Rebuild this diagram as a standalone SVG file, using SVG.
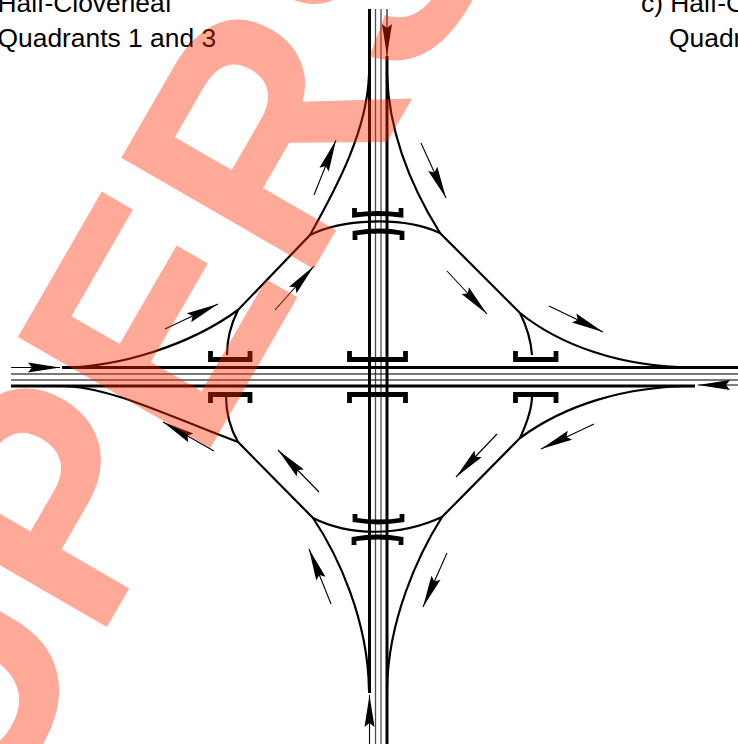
<svg xmlns="http://www.w3.org/2000/svg" width="738" height="744" viewBox="0 0 738 744">
<style>
.lbl{font-family:"Liberation Sans",Arial,sans-serif;font-size:26.4px;fill:#000}
.mw{fill:none;stroke:#000;stroke-width:3}
.ml{fill:none;stroke:#000;stroke-width:1.3;opacity:.7}
.rp{fill:none;stroke:#000;stroke-width:2.2}
.br{fill:none;stroke:#000;stroke-width:4.8}
.ar{fill:none;stroke:#000;stroke-width:1.1;marker-end:url(#ah)}
.wm{font-family:"Liberation Sans",Arial,sans-serif;font-weight:700;font-size:323px;fill:#ff2a00;opacity:.4}
</style>
<defs>
<marker id="ah" markerUnits="userSpaceOnUse" markerWidth="36" markerHeight="14" refX="33" refY="7" orient="auto">
<path d="M33,7 L1,2 L5,7 L1,12 Z" fill="#000"/>
</marker>
</defs>
<rect width="738" height="744" fill="#fff"/>
<g id="labels">
<text class="lbl" x="-2.5" y="12">Half-Cloverleaf</text>
<text class="lbl" x="-2.5" y="46.5">Quadrants 1 and 3</text>
<text class="lbl" x="641" y="12">c) Half-C</text>
<text class="lbl" x="669" y="46.5">Quadr</text>
</g>
<g id="connectors">
<path class="mw" d="M62,367.5H738"/>
<path class="mw" d="M11,386H695"/>
<path class="ml" d="M11,374H738M11,380H738"/>
<path class="mw" d="M369.5,9V693"/>
<path class="mw" d="M387,56V744"/>
<path class="ml" d="M375.5,9V744M381,9V744"/>
<path class="rp" d="M369,75C367,130 338,185 310,235L238,310C190,345 120,367 62,367.5"/>
<path class="rp" d="M387,75C389,130 410,185 440,233L520,313C560,345 620,367 692,367.5"/>
<path class="rp" d="M60,386C110,386 170,417 238,442L313,518C338,555 368,620 369,690"/>
<path class="rp" d="M695,386C625,386 565,405 520,438L442,517C418,555 388,620 387,690"/>
<path class="rp" d="M310,235C340,220 400,215 440,233"/>
<path class="rp" d="M520,313C526,325 531,340 532,355"/>
<path class="rp" d="M238,310C232,322 227,338 227,355"/>
<path class="rp" d="M238,442C230,428 226,412 226,396"/>
<path class="rp" d="M520,438C526,425 532,410 532,396"/>
<path class="rp" d="M313,518C350,536.500 400,536.500 442,517"/>
<path class="ar" d="M11,367.5H60"/>
<path class="ar" d="M314,195L336,140"/>
<path class="ar" d="M421,143L446,198"/>
<path class="ar" d="M165,329L218,304"/>
<path class="ar" d="M275,310L314,266"/>
<path class="ar" d="M447,271L487,314"/>
<path class="ar" d="M549,306L603,332"/>
<path class="ar" d="M738,385L698,385"/>
<path class="ar" d="M594,424L541,449"/>
<path class="ar" d="M497,434L456,477"/>
<path class="ar" d="M447,553L423,607"/>
<path class="ar" d="M331,604L309,549"/>
<path class="ar" d="M319,492L278,450"/>
<path class="ar" d="M214,451L163,422"/>
<path class="ar" d="M369.5,744V695"/>
<path class="ar" d="M387,9V56"/>
</g>
<g id="bridge-center-n"><path class="br" d="M349.5,351V359.5H405.5V351"/></g>
<g id="bridge-center-s"><path class="br" d="M349.5,403V394.5H405.5V403"/></g>
<g id="bridge-west-n"><path class="br" d="M210.5,351V359.5H250V351"/></g>
<g id="bridge-west-s"><path class="br" d="M210.5,403V394.5H250V403"/></g>
<g id="bridge-east-n"><path class="br" d="M515.5,351V359.5H556V351"/></g>
<g id="bridge-east-s"><path class="br" d="M515.5,403V394.5H556V403"/></g>
<g id="bridge-north-n"><path class="br" d="M354.5,208V215Q378,212 401,215V208"/></g>
<g id="bridge-north-s"><path class="br" d="M355,240V233Q380,229 402,233V240"/></g>
<g id="bridge-south-n"><path class="br" d="M355,514V520Q379,524 402,520V514"/></g>
<g id="bridge-south-s"><path class="br" d="M354,545V539Q378,535 401,539V545"/></g>
<g id="watermark"><text class="wm" transform="translate(-15.4,839) rotate(-60) scale(.96,1)">UPERS</text></g>
</svg>
